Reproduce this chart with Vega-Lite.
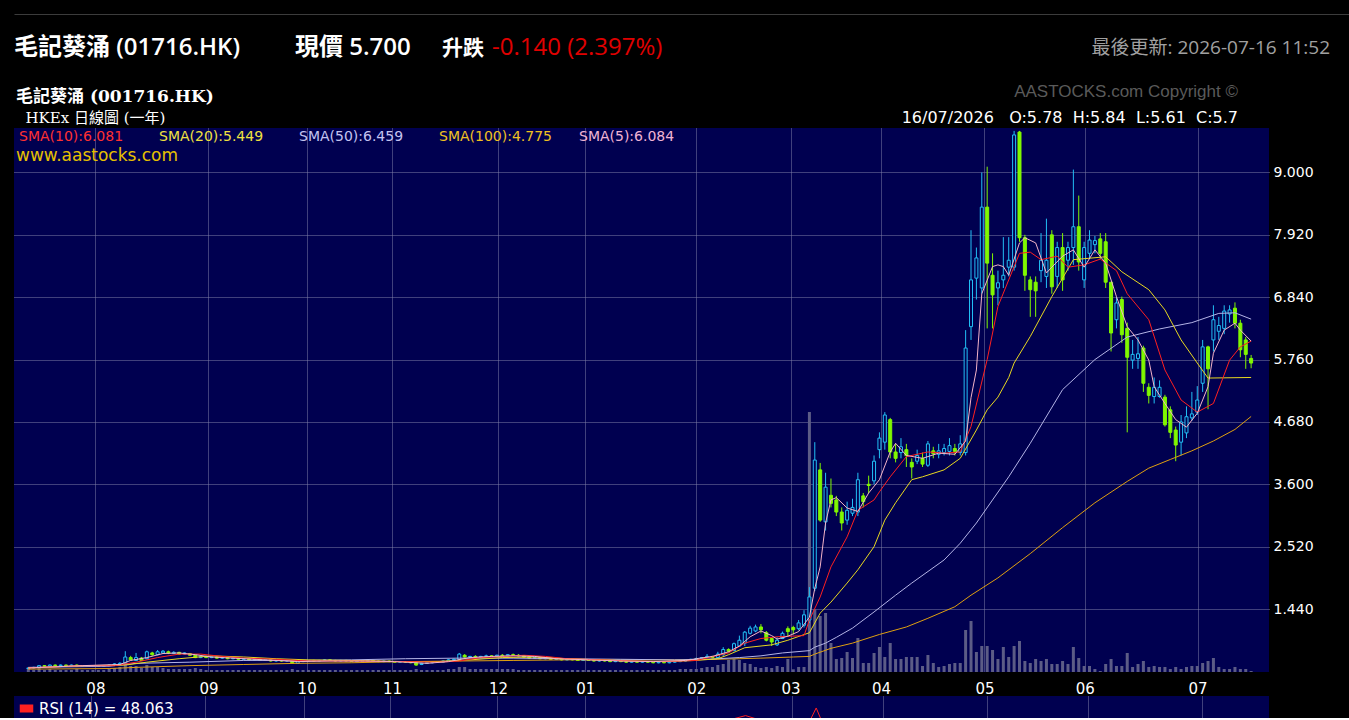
{
"$schema": "https://vega.github.io/schema/vega-lite/v6.json",
"background": "#000000",
"padding": {"left": 14, "top": 14, "right": 0, "bottom": 0},
"config": {
  "view": {"stroke": null},
  "concat": {"spacing": 0},
  "axis": {"domain": false, "ticks": false, "labelColor": "#ffffff", "labelFont": "DejaVu Sans", "gridColor": "#8080a8", "gridDash": [1, 1], "gridOpacity": 1}
},
"datasets": {
"k": [
{"i":0,"o":0.41,"h":0.43,"l":0.40,"c":0.42,"v":0.3},{"i":1,"o":0.42,"h":0.44,"l":0.41,"c":0.43,"v":0.2},{"i":2,"o":0.43,"h":0.47,"l":0.42,"c":0.46,"v":0.4},{"i":3,"o":0.46,"h":0.47,"l":0.44,"c":0.45,"v":0.2},{"i":4,"o":0.45,"h":0.48,"l":0.44,"c":0.47,"v":0.3},{"i":5,"o":0.47,"h":0.48,"l":0.45,"c":0.46,"v":0.2},{"i":6,"o":0.46,"h":0.48,"l":0.45,"c":0.47,"v":0.2},{"i":7,"o":0.47,"h":0.48,"l":0.45,"c":0.46,"v":0.2},{"i":8,"o":0.46,"h":0.48,"l":0.45,"c":0.47,"v":0.2},{"i":9,"o":0.47,"h":0.48,"l":0.44,"c":0.45,"v":0.3},
{"i":10,"o":0.45,"h":0.47,"l":0.44,"c":0.46,"v":0.2},{"i":11,"o":0.46,"h":0.47,"l":0.44,"c":0.45,"v":0.2},{"i":12,"o":0.45,"h":0.47,"l":0.44,"c":0.46,"v":0.2},{"i":13,"o":0.46,"h":0.47,"l":0.44,"c":0.45,"v":0.2},{"i":14,"o":0.45,"h":0.47,"l":0.44,"c":0.46,"v":0.2},{"i":15,"o":0.46,"h":0.48,"l":0.45,"c":0.47,"v":0.3},{"i":16,"o":0.47,"h":0.50,"l":0.46,"c":0.49,"v":0.4},{"i":17,"o":0.49,"h":0.52,"l":0.48,"c":0.50,"v":0.5},{"i":18,"o":0.50,"h":0.71,"l":0.49,"c":0.61,"v":0.9},{"i":19,"o":0.60,"h":0.63,"l":0.55,"c":0.56,"v":0.6},
{"i":20,"o":0.55,"h":0.68,"l":0.54,"c":0.60,"v":0.6},{"i":21,"o":0.59,"h":0.61,"l":0.54,"c":0.55,"v":0.4},{"i":22,"o":0.58,"h":0.72,"l":0.57,"c":0.70,"v":0.7},{"i":23,"o":0.68,"h":0.70,"l":0.63,"c":0.65,"v":0.5},{"i":24,"o":0.65,"h":0.73,"l":0.64,"c":0.70,"v":0.5},{"i":25,"o":0.68,"h":0.73,"l":0.67,"c":0.71,"v":0.4},{"i":26,"o":0.70,"h":0.72,"l":0.66,"c":0.68,"v":0.3},{"i":27,"o":0.67,"h":0.71,"l":0.66,"c":0.69,"v":0.3},{"i":28,"o":0.69,"h":0.70,"l":0.65,"c":0.66,"v":0.3},{"i":29,"o":0.66,"h":0.69,"l":0.65,"c":0.68,"v":0.3},
{"i":30,"o":0.67,"h":0.68,"l":0.63,"c":0.64,"v":0.3},{"i":31,"o":0.64,"h":0.65,"l":0.59,"c":0.60,"v":0.4},{"i":32,"o":0.60,"h":0.63,"l":0.59,"c":0.62,"v":0.3},{"i":33,"o":0.62,"h":0.63,"l":0.59,"c":0.60,"v":0.2},{"i":34,"o":0.60,"h":0.62,"l":0.59,"c":0.61,"v":0.2},{"i":35,"o":0.61,"h":0.62,"l":0.58,"c":0.59,"v":0.2},{"i":36,"o":0.59,"h":0.61,"l":0.58,"c":0.60,"v":0.2},{"i":37,"o":0.60,"h":0.61,"l":0.57,"c":0.58,"v":0.2},{"i":38,"o":0.58,"h":0.60,"l":0.57,"c":0.59,"v":0.2},{"i":39,"o":0.59,"h":0.60,"l":0.56,"c":0.57,"v":0.2},
{"i":40,"o":0.57,"h":0.59,"l":0.56,"c":0.58,"v":0.2},{"i":41,"o":0.58,"h":0.59,"l":0.55,"c":0.56,"v":0.2},{"i":42,"o":0.56,"h":0.58,"l":0.55,"c":0.57,"v":0.2},{"i":43,"o":0.57,"h":0.58,"l":0.54,"c":0.55,"v":0.2},{"i":44,"o":0.55,"h":0.57,"l":0.54,"c":0.56,"v":0.2},{"i":45,"o":0.56,"h":0.57,"l":0.53,"c":0.54,"v":0.2},{"i":46,"o":0.54,"h":0.56,"l":0.53,"c":0.55,"v":0.2},{"i":47,"o":0.55,"h":0.56,"l":0.53,"c":0.54,"v":0.2},{"i":48,"o":0.54,"h":0.56,"l":0.53,"c":0.55,"v":0.2},{"i":49,"o":0.55,"h":0.55,"l":0.49,"c":0.50,"v":0.3},
{"i":50,"o":0.50,"h":0.54,"l":0.49,"c":0.53,"v":0.2},{"i":51,"o":0.53,"h":0.55,"l":0.52,"c":0.54,"v":0.2},{"i":52,"o":0.54,"h":0.56,"l":0.53,"c":0.55,"v":0.2},{"i":53,"o":0.55,"h":0.56,"l":0.53,"c":0.54,"v":0.2},{"i":54,"o":0.54,"h":0.56,"l":0.53,"c":0.55,"v":0.2},{"i":55,"o":0.55,"h":0.57,"l":0.54,"c":0.56,"v":0.2},{"i":56,"o":0.56,"h":0.57,"l":0.54,"c":0.55,"v":0.2},{"i":57,"o":0.55,"h":0.56,"l":0.53,"c":0.54,"v":0.2},{"i":58,"o":0.54,"h":0.56,"l":0.53,"c":0.55,"v":0.2},{"i":59,"o":0.55,"h":0.56,"l":0.53,"c":0.54,"v":0.2},
{"i":60,"o":0.54,"h":0.55,"l":0.52,"c":0.53,"v":0.2},{"i":61,"o":0.53,"h":0.55,"l":0.52,"c":0.54,"v":0.2},{"i":62,"o":0.54,"h":0.55,"l":0.53,"c":0.54,"v":0.2},{"i":63,"o":0.54,"h":0.56,"l":0.53,"c":0.55,"v":0.2},{"i":64,"o":0.55,"h":0.56,"l":0.53,"c":0.54,"v":0.2},{"i":65,"o":0.54,"h":0.55,"l":0.52,"c":0.53,"v":0.2},{"i":66,"o":0.53,"h":0.55,"l":0.52,"c":0.54,"v":0.2},{"i":67,"o":0.54,"h":0.55,"l":0.52,"c":0.53,"v":0.2},{"i":68,"o":0.53,"h":0.54,"l":0.51,"c":0.52,"v":0.2},{"i":69,"o":0.52,"h":0.54,"l":0.51,"c":0.53,"v":0.2},
{"i":70,"o":0.53,"h":0.54,"l":0.51,"c":0.52,"v":0.2},{"i":71,"o":0.52,"h":0.53,"l":0.50,"c":0.51,"v":0.2},{"i":72,"o":0.51,"h":0.52,"l":0.46,"c":0.47,"v":0.3},{"i":73,"o":0.48,"h":0.51,"l":0.47,"c":0.50,"v":0.2},{"i":74,"o":0.50,"h":0.52,"l":0.49,"c":0.51,"v":0.2},{"i":75,"o":0.51,"h":0.53,"l":0.50,"c":0.52,"v":0.2},{"i":76,"o":0.52,"h":0.53,"l":0.51,"c":0.52,"v":0.2},{"i":77,"o":0.52,"h":0.55,"l":0.51,"c":0.54,"v":0.2},{"i":78,"o":0.54,"h":0.57,"l":0.53,"c":0.56,"v":0.3},{"i":79,"o":0.56,"h":0.58,"l":0.54,"c":0.57,"v":0.3},
{"i":80,"o":0.57,"h":0.68,"l":0.56,"c":0.66,"v":0.5},{"i":81,"o":0.64,"h":0.66,"l":0.60,"c":0.61,"v":0.5},{"i":82,"o":0.61,"h":0.63,"l":0.59,"c":0.62,"v":0.3},{"i":83,"o":0.62,"h":0.64,"l":0.60,"c":0.61,"v":0.3},{"i":84,"o":0.61,"h":0.63,"l":0.60,"c":0.62,"v":0.3},{"i":85,"o":0.62,"h":0.65,"l":0.61,"c":0.63,"v":0.3},{"i":86,"o":0.63,"h":0.64,"l":0.61,"c":0.62,"v":0.3},{"i":87,"o":0.62,"h":0.65,"l":0.61,"c":0.64,"v":0.3},{"i":88,"o":0.64,"h":0.66,"l":0.62,"c":0.63,"v":0.3},{"i":89,"o":0.63,"h":0.66,"l":0.62,"c":0.65,"v":0.3},
{"i":90,"o":0.65,"h":0.67,"l":0.63,"c":0.64,"v":0.3},{"i":91,"o":0.64,"h":0.66,"l":0.62,"c":0.63,"v":0.2},{"i":92,"o":0.63,"h":0.64,"l":0.60,"c":0.61,"v":0.2},{"i":93,"o":0.61,"h":0.62,"l":0.58,"c":0.59,"v":0.2},{"i":94,"o":0.59,"h":0.61,"l":0.58,"c":0.60,"v":0.2},{"i":95,"o":0.60,"h":0.61,"l":0.57,"c":0.58,"v":0.2},{"i":96,"o":0.58,"h":0.60,"l":0.57,"c":0.59,"v":0.2},{"i":97,"o":0.59,"h":0.60,"l":0.56,"c":0.57,"v":0.2},{"i":98,"o":0.57,"h":0.59,"l":0.56,"c":0.58,"v":0.2},{"i":99,"o":0.58,"h":0.59,"l":0.55,"c":0.56,"v":0.2},
{"i":100,"o":0.56,"h":0.58,"l":0.55,"c":0.57,"v":0.2},{"i":101,"o":0.57,"h":0.58,"l":0.55,"c":0.56,"v":0.2},{"i":102,"o":0.56,"h":0.57,"l":0.54,"c":0.55,"v":0.2},{"i":103,"o":0.55,"h":0.57,"l":0.54,"c":0.56,"v":0.2},{"i":104,"o":0.56,"h":0.57,"l":0.54,"c":0.55,"v":0.2},{"i":105,"o":0.55,"h":0.56,"l":0.53,"c":0.54,"v":0.2},{"i":106,"o":0.54,"h":0.56,"l":0.53,"c":0.55,"v":0.2},{"i":107,"o":0.55,"h":0.56,"l":0.53,"c":0.54,"v":0.2},{"i":108,"o":0.54,"h":0.55,"l":0.52,"c":0.53,"v":0.2},{"i":109,"o":0.53,"h":0.55,"l":0.52,"c":0.54,"v":0.2},
{"i":110,"o":0.54,"h":0.55,"l":0.52,"c":0.53,"v":0.2},{"i":111,"o":0.53,"h":0.54,"l":0.51,"c":0.52,"v":0.2},{"i":112,"o":0.52,"h":0.54,"l":0.51,"c":0.53,"v":0.2},{"i":113,"o":0.53,"h":0.54,"l":0.51,"c":0.52,"v":0.2},{"i":114,"o":0.52,"h":0.54,"l":0.51,"c":0.53,"v":0.2},{"i":115,"o":0.53,"h":0.54,"l":0.51,"c":0.52,"v":0.2},{"i":116,"o":0.52,"h":0.53,"l":0.50,"c":0.51,"v":0.2},{"i":117,"o":0.51,"h":0.53,"l":0.50,"c":0.52,"v":0.2},{"i":118,"o":0.52,"h":0.53,"l":0.50,"c":0.51,"v":0.2},{"i":119,"o":0.51,"h":0.53,"l":0.50,"c":0.52,"v":0.2},
{"i":120,"o":0.52,"h":0.54,"l":0.51,"c":0.53,"v":0.2},{"i":121,"o":0.53,"h":0.55,"l":0.52,"c":0.54,"v":0.3},{"i":122,"o":0.54,"h":0.57,"l":0.53,"c":0.56,"v":0.3},{"i":123,"o":0.56,"h":0.58,"l":0.55,"c":0.57,"v":0.3},{"i":124,"o":0.57,"h":0.60,"l":0.55,"c":0.58,"v":0.3},{"i":125,"o":0.58,"h":0.61,"l":0.57,"c":0.60,"v":0.4},{"i":126,"o":0.60,"h":0.66,"l":0.59,"c":0.62,"v":0.5},{"i":127,"o":0.62,"h":0.63,"l":0.59,"c":0.60,"v":0.5},{"i":128,"o":0.60,"h":0.70,"l":0.59,"c":0.66,"v":0.7},{"i":129,"o":0.65,"h":0.78,"l":0.63,"c":0.74,"v":0.8},
{"i":130,"o":0.74,"h":0.76,"l":0.69,"c":0.71,"v":1.2},{"i":131,"o":0.72,"h":0.86,"l":0.71,"c":0.84,"v":1.3},{"i":132,"o":0.80,"h":0.98,"l":0.79,"c":0.90,"v":1.2},{"i":133,"o":0.85,"h":1.06,"l":0.80,"c":1.04,"v":0.9},{"i":134,"o":1.02,"h":1.15,"l":1.00,"c":1.11,"v":0.8},{"i":135,"o":1.06,"h":1.17,"l":1.04,"c":1.13,"v":0.5},{"i":136,"o":1.13,"h":1.18,"l":1.02,"c":1.08,"v":0.4},{"i":137,"o":1.03,"h":1.06,"l":0.88,"c":0.90,"v":0.5},{"i":138,"o":0.93,"h":0.95,"l":0.80,"c":0.87,"v":0.4},{"i":139,"o":0.82,"h":0.95,"l":0.80,"c":0.90,"v":0.6},
{"i":140,"o":0.93,"h":1.05,"l":0.92,"c":1.02,"v":0.5},{"i":141,"o":1.10,"h":1.14,"l":0.96,"c":1.05,"v":1.3},{"i":142,"o":1.12,"h":1.15,"l":1.00,"c":1.08,"v":0.27},{"i":143,"o":1.10,"h":1.25,"l":1.07,"c":1.20,"v":0.5},{"i":144,"o":1.16,"h":1.42,"l":1.12,"c":1.34,"v":0.5},{"i":145,"o":1.25,"h":1.82,"l":1.20,"c":1.65,"v":26},{"i":146,"o":1.80,"h":4.33,"l":1.75,"c":4.02,"v":6.3},{"i":147,"o":3.85,"h":3.97,"l":2.95,"c":2.98,"v":5.6},{"i":148,"o":2.95,"h":3.80,"l":2.80,"c":3.55,"v":5.9},{"i":149,"o":3.41,"h":3.70,"l":3.20,"c":3.27,"v":2.9},
{"i":150,"o":3.33,"h":3.40,"l":3.05,"c":3.12,"v":1.3},{"i":151,"o":3.12,"h":3.20,"l":2.80,"c":2.93,"v":1.4},{"i":152,"o":2.98,"h":3.30,"l":2.90,"c":3.15,"v":2.0},{"i":153,"o":3.10,"h":3.35,"l":3.05,"c":3.20,"v":1.4},{"i":154,"o":3.12,"h":3.80,"l":3.05,"c":3.68,"v":3.4},{"i":155,"o":3.40,"h":3.45,"l":3.20,"c":3.30,"v":0.9},{"i":156,"o":3.60,"h":3.75,"l":3.45,"c":3.58,"v":0.9},{"i":157,"o":3.66,"h":4.10,"l":3.60,"c":4.00,"v":1.9},{"i":158,"o":4.20,"h":4.50,"l":4.05,"c":4.40,"v":2.5},{"i":159,"o":4.33,"h":4.85,"l":4.20,"c":4.80,"v":1.5},
{"i":160,"o":4.72,"h":4.75,"l":4.05,"c":4.16,"v":2.9},{"i":161,"o":4.16,"h":4.30,"l":3.98,"c":4.05,"v":1.3},{"i":162,"o":4.15,"h":4.40,"l":4.05,"c":4.25,"v":1.3},{"i":163,"o":4.20,"h":4.30,"l":3.90,"c":4.10,"v":1.5},{"i":164,"o":3.98,"h":4.05,"l":3.70,"c":3.90,"v":1.5},{"i":165,"o":4.00,"h":4.20,"l":3.95,"c":4.10,"v":1.5},{"i":166,"o":4.05,"h":4.15,"l":3.90,"c":3.95,"v":0.6},{"i":167,"o":3.93,"h":4.35,"l":3.90,"c":4.30,"v":1.7},{"i":168,"o":4.18,"h":4.25,"l":4.05,"c":4.13,"v":0.9},{"i":169,"o":4.12,"h":4.30,"l":4.05,"c":4.18,"v":0.5},
{"i":170,"o":4.15,"h":4.30,"l":4.10,"c":4.22,"v":0.6},{"i":171,"o":4.17,"h":4.40,"l":4.10,"c":4.27,"v":0.8},{"i":172,"o":4.22,"h":4.30,"l":4.10,"c":4.17,"v":0.9},{"i":173,"o":4.15,"h":4.45,"l":4.10,"c":4.30,"v":0.9},{"i":174,"o":4.15,"h":6.27,"l":4.10,"c":5.96,"v":4.2},{"i":175,"o":6.33,"h":8.00,"l":6.10,"c":7.14,"v":5.1},{"i":176,"o":7.17,"h":7.70,"l":6.80,"c":7.52,"v":2.0},{"i":177,"o":7.00,"h":9.00,"l":6.90,"c":8.40,"v":2.6},{"i":178,"o":8.40,"h":9.10,"l":6.30,"c":7.43,"v":2.6},{"i":179,"o":7.22,"h":7.60,"l":6.30,"c":6.88,"v":2.2},
{"i":180,"o":7.00,"h":7.30,"l":6.70,"c":7.09,"v":1.3},{"i":181,"o":7.14,"h":7.88,"l":7.00,"c":7.22,"v":2.5},{"i":182,"o":7.36,"h":7.88,"l":7.20,"c":7.48,"v":1.5},{"i":183,"o":7.36,"h":9.72,"l":7.30,"c":9.65,"v":2.6},{"i":184,"o":9.70,"h":9.72,"l":7.80,"c":7.87,"v":3.1},{"i":185,"o":7.87,"h":7.92,"l":6.95,"c":7.22,"v":1.1},{"i":186,"o":7.14,"h":7.20,"l":6.50,"c":6.97,"v":0.9},{"i":187,"o":7.10,"h":7.20,"l":6.50,"c":6.95,"v":1.3},{"i":188,"o":7.30,"h":7.95,"l":7.10,"c":7.48,"v":1.1},{"i":189,"o":7.20,"h":8.20,"l":7.00,"c":7.48,"v":1.3},
{"i":190,"o":7.92,"h":8.00,"l":6.90,"c":7.02,"v":0.8},{"i":191,"o":7.20,"h":7.80,"l":7.00,"c":7.70,"v":0.8},{"i":192,"o":7.70,"h":7.95,"l":6.95,"c":7.14,"v":1.1},{"i":193,"o":7.48,"h":7.80,"l":7.30,"c":7.70,"v":0.8},{"i":194,"o":7.70,"h":9.05,"l":7.40,"c":8.06,"v":2.5},{"i":195,"o":8.06,"h":8.60,"l":7.30,"c":7.45,"v":1.4},{"i":196,"o":7.14,"h":7.80,"l":7.00,"c":7.70,"v":0.6},{"i":197,"o":7.60,"h":8.00,"l":7.50,"c":7.83,"v":0.6},{"i":198,"o":7.75,"h":7.90,"l":7.60,"c":7.82,"v":0.3},{"i":199,"o":7.85,"h":7.95,"l":7.50,"c":7.60,"v":0.1},
{"i":200,"o":7.80,"h":7.95,"l":7.00,"c":7.10,"v":0.8},{"i":201,"o":7.10,"h":7.10,"l":5.90,"c":6.22,"v":1.3},{"i":202,"o":6.45,"h":6.85,"l":6.30,"c":6.74,"v":0.6},{"i":203,"o":6.80,"h":6.85,"l":6.05,"c":6.19,"v":0.6},{"i":204,"o":6.30,"h":6.40,"l":4.50,"c":5.80,"v":1.9},{"i":205,"o":5.75,"h":6.10,"l":5.60,"c":5.85,"v":0.5},{"i":206,"o":5.78,"h":6.15,"l":5.60,"c":5.86,"v":0.8},{"i":207,"o":5.96,"h":6.00,"l":5.20,"c":5.35,"v":1.1},{"i":208,"o":5.28,"h":5.35,"l":5.00,"c":5.14,"v":0.5},{"i":209,"o":5.12,"h":5.45,"l":5.00,"c":5.28,"v":0.6},
{"i":210,"o":5.12,"h":5.40,"l":5.10,"c":5.28,"v":0.5},{"i":211,"o":5.11,"h":5.15,"l":4.60,"c":4.63,"v":0.5},{"i":212,"o":4.89,"h":4.95,"l":4.40,"c":4.50,"v":0.3},{"i":213,"o":4.54,"h":4.60,"l":4.00,"c":4.28,"v":0.5},{"i":214,"o":4.33,"h":4.80,"l":4.10,"c":4.68,"v":0.3},{"i":215,"o":4.49,"h":4.95,"l":4.40,"c":4.77,"v":0.5},{"i":216,"o":4.75,"h":5.20,"l":4.70,"c":4.82,"v":0.6},{"i":217,"o":4.85,"h":5.30,"l":4.80,"c":5.06,"v":0.6},{"i":218,"o":5.35,"h":6.10,"l":5.20,"c":5.98,"v":0.9},{"i":219,"o":5.98,"h":6.00,"l":4.90,"c":5.60,"v":1.1},
{"i":220,"o":6.10,"h":6.70,"l":5.90,"c":6.45,"v":1.4},{"i":221,"o":6.25,"h":6.50,"l":6.10,"c":6.35,"v":0.5},{"i":222,"o":6.30,"h":6.70,"l":6.20,"c":6.60,"v":0.3},{"i":223,"o":6.55,"h":6.70,"l":6.40,"c":6.62,"v":0.3},{"i":224,"o":6.65,"h":6.75,"l":6.30,"c":6.39,"v":0.5},{"i":225,"o":6.39,"h":6.45,"l":5.80,"c":5.93,"v":0.3},{"i":226,"o":6.10,"h":6.15,"l":5.60,"c":5.85,"v":0.3},{"i":227,"o":5.78,"h":5.84,"l":5.61,"c":5.70,"v":0.1}
],
"sma": [
{"s":"SMA(100):4.775","i":0,"p":0.40},{"s":"SMA(100):4.775","i":15,"p":0.41},{"s":"SMA(100):4.775","i":20,"p":0.43},{"s":"SMA(100):4.775","i":30,"p":0.46},{"s":"SMA(100):4.775","i":40,"p":0.48},{"s":"SMA(100):4.775","i":50,"p":0.50},{"s":"SMA(100):4.775","i":60,"p":0.51},{"s":"SMA(100):4.775","i":70,"p":0.53},{"s":"SMA(100):4.775","i":80,"p":0.54},{"s":"SMA(100):4.775","i":90,"p":0.55},{"s":"SMA(100):4.775","i":100,"p":0.56},{"s":"SMA(100):4.775","i":110,"p":0.56},{"s":"SMA(100):4.775","i":120,"p":0.56},{"s":"SMA(100):4.775","i":128,"p":0.57},{"s":"SMA(100):4.775","i":136,"p":0.59},{"s":"SMA(100):4.775","i":142,"p":0.61},{"s":"SMA(100):4.775","i":145,"p":0.62},{"s":"SMA(100):4.775","i":146,"p":0.66},{"s":"SMA(100):4.775","i":149,"p":0.76},{"s":"SMA(100):4.775","i":153,"p":0.85},{"s":"SMA(100):4.775","i":158,"p":1.0},{"s":"SMA(100):4.775","i":163,"p":1.13},{"s":"SMA(100):4.775","i":167,"p":1.28},{"s":"SMA(100):4.775","i":172,"p":1.48},{"s":"SMA(100):4.775","i":175,"p":1.68},{"s":"SMA(100):4.775","i":180,"p":1.98},{"s":"SMA(100):4.775","i":186,"p":2.4},{"s":"SMA(100):4.775","i":192,"p":2.85},{"s":"SMA(100):4.775","i":198,"p":3.28},{"s":"SMA(100):4.775","i":204,"p":3.65},{"s":"SMA(100):4.775","i":208,"p":3.88},{"s":"SMA(100):4.775","i":212,"p":4.03},{"s":"SMA(100):4.775","i":216,"p":4.18},{"s":"SMA(100):4.775","i":220,"p":4.35},{"s":"SMA(100):4.775","i":224,"p":4.55},{"s":"SMA(100):4.775","i":227,"p":4.775},
{"s":"SMA(50):6.459","i":0,"p":0.43},{"s":"SMA(50):6.459","i":15,"p":0.45},{"s":"SMA(50):6.459","i":20,"p":0.50},{"s":"SMA(50):6.459","i":30,"p":0.52},{"s":"SMA(50):6.459","i":40,"p":0.55},{"s":"SMA(50):6.459","i":50,"p":0.55},{"s":"SMA(50):6.459","i":60,"p":0.56},{"s":"SMA(50):6.459","i":70,"p":0.58},{"s":"SMA(50):6.459","i":80,"p":0.59},{"s":"SMA(50):6.459","i":90,"p":0.59},{"s":"SMA(50):6.459","i":100,"p":0.58},{"s":"SMA(50):6.459","i":110,"p":0.57},{"s":"SMA(50):6.459","i":120,"p":0.56},{"s":"SMA(50):6.459","i":126,"p":0.57},{"s":"SMA(50):6.459","i":132,"p":0.60},{"s":"SMA(50):6.459","i":136,"p":0.63},{"s":"SMA(50):6.459","i":140,"p":0.68},{"s":"SMA(50):6.459","i":145,"p":0.72},{"s":"SMA(50):6.459","i":146,"p":0.78},{"s":"SMA(50):6.459","i":148,"p":0.85},{"s":"SMA(50):6.459","i":150,"p":0.95},{"s":"SMA(50):6.459","i":153,"p":1.11},{"s":"SMA(50):6.459","i":157,"p":1.39},{"s":"SMA(50):6.459","i":161,"p":1.68},{"s":"SMA(50):6.459","i":164,"p":1.89},{"s":"SMA(50):6.459","i":170,"p":2.29},{"s":"SMA(50):6.459","i":173,"p":2.58},{"s":"SMA(50):6.459","i":176,"p":2.93},{"s":"SMA(50):6.459","i":182,"p":3.73},{"s":"SMA(50):6.459","i":186,"p":4.31},{"s":"SMA(50):6.459","i":192,"p":5.24},{"s":"SMA(50):6.459","i":198,"p":5.76},{"s":"SMA(50):6.459","i":204,"p":6.15},{"s":"SMA(50):6.459","i":210,"p":6.29},{"s":"SMA(50):6.459","i":216,"p":6.40},{"s":"SMA(50):6.459","i":221,"p":6.56},{"s":"SMA(50):6.459","i":224,"p":6.57},{"s":"SMA(50):6.459","i":227,"p":6.46},
{"s":"SMA(20):5.449","i":0,"p":0.42},{"s":"SMA(20):5.449","i":10,"p":0.46},{"s":"SMA(20):5.449","i":18,"p":0.47},{"s":"SMA(20):5.449","i":22,"p":0.52},{"s":"SMA(20):5.449","i":28,"p":0.58},{"s":"SMA(20):5.449","i":34,"p":0.63},{"s":"SMA(20):5.449","i":40,"p":0.61},{"s":"SMA(20):5.449","i":46,"p":0.58},{"s":"SMA(20):5.449","i":52,"p":0.56},{"s":"SMA(20):5.449","i":60,"p":0.55},{"s":"SMA(20):5.449","i":70,"p":0.53},{"s":"SMA(20):5.449","i":76,"p":0.53},{"s":"SMA(20):5.449","i":82,"p":0.56},{"s":"SMA(20):5.449","i":88,"p":0.60},{"s":"SMA(20):5.449","i":94,"p":0.61},{"s":"SMA(20):5.449","i":100,"p":0.58},{"s":"SMA(20):5.449","i":106,"p":0.56},{"s":"SMA(20):5.449","i":112,"p":0.54},{"s":"SMA(20):5.449","i":118,"p":0.53},{"s":"SMA(20):5.449","i":124,"p":0.55},{"s":"SMA(20):5.449","i":128,"p":0.58},{"s":"SMA(20):5.449","i":130,"p":0.65},{"s":"SMA(20):5.449","i":133,"p":0.77},{"s":"SMA(20):5.449","i":138,"p":0.82},{"s":"SMA(20):5.449","i":141,"p":0.90},{"s":"SMA(20):5.449","i":145,"p":1.03},{"s":"SMA(20):5.449","i":147,"p":1.37},{"s":"SMA(20):5.449","i":149,"p":1.56},{"s":"SMA(20):5.449","i":152,"p":1.89},{"s":"SMA(20):5.449","i":154,"p":2.12},{"s":"SMA(20):5.449","i":157,"p":2.52},{"s":"SMA(20):5.449","i":159,"p":2.98},{"s":"SMA(20):5.449","i":161,"p":3.28},{"s":"SMA(20):5.449","i":164,"p":3.68},{"s":"SMA(20):5.449","i":166,"p":3.73},{"s":"SMA(20):5.449","i":170,"p":3.85},{"s":"SMA(20):5.449","i":173,"p":4.05},{"s":"SMA(20):5.449","i":176,"p":4.54},{"s":"SMA(20):5.449","i":178,"p":4.89},{"s":"SMA(20):5.449","i":180,"p":5.11},{"s":"SMA(20):5.449","i":182,"p":5.45},{"s":"SMA(20):5.449","i":183,"p":5.70},{"s":"SMA(20):5.449","i":186,"p":6.16},{"s":"SMA(20):5.449","i":190,"p":6.85},{"s":"SMA(20):5.449","i":194,"p":7.49},{"s":"SMA(20):5.449","i":200,"p":7.54},{"s":"SMA(20):5.449","i":203,"p":7.28},{"s":"SMA(20):5.449","i":208,"p":6.97},{"s":"SMA(20):5.449","i":211,"p":6.62},{"s":"SMA(20):5.449","i":214,"p":6.10},{"s":"SMA(20):5.449","i":217,"p":5.70},{"s":"SMA(20):5.449","i":219,"p":5.44},{"s":"SMA(20):5.449","i":227,"p":5.45},
{"s":"SMA(10):6.081","i":0,"p":0.42},{"s":"SMA(10):6.081","i":10,"p":0.46},{"s":"SMA(10):6.081","i":16,"p":0.46},{"s":"SMA(10):6.081","i":20,"p":0.52},{"s":"SMA(10):6.081","i":24,"p":0.60},{"s":"SMA(10):6.081","i":28,"p":0.66},{"s":"SMA(10):6.081","i":32,"p":0.66},{"s":"SMA(10):6.081","i":36,"p":0.62},{"s":"SMA(10):6.081","i":40,"p":0.59},{"s":"SMA(10):6.081","i":46,"p":0.57},{"s":"SMA(10):6.081","i":52,"p":0.54},{"s":"SMA(10):6.081","i":60,"p":0.54},{"s":"SMA(10):6.081","i":70,"p":0.53},{"s":"SMA(10):6.081","i":76,"p":0.52},{"s":"SMA(10):6.081","i":80,"p":0.54},{"s":"SMA(10):6.081","i":84,"p":0.60},{"s":"SMA(10):6.081","i":88,"p":0.62},{"s":"SMA(10):6.081","i":92,"p":0.64},{"s":"SMA(10):6.081","i":96,"p":0.62},{"s":"SMA(10):6.081","i":100,"p":0.58},{"s":"SMA(10):6.081","i":106,"p":0.56},{"s":"SMA(10):6.081","i":112,"p":0.54},{"s":"SMA(10):6.081","i":118,"p":0.53},{"s":"SMA(10):6.081","i":124,"p":0.55},{"s":"SMA(10):6.081","i":130,"p":0.68},{"s":"SMA(10):6.081","i":133,"p":0.85},{"s":"SMA(10):6.081","i":136,"p":0.93},{"s":"SMA(10):6.081","i":139,"p":0.96},{"s":"SMA(10):6.081","i":144,"p":0.98},{"s":"SMA(10):6.081","i":145,"p":1.25},{"s":"SMA(10):6.081","i":147,"p":1.65},{"s":"SMA(10):6.081","i":149,"p":2.17},{"s":"SMA(10):6.081","i":152,"p":2.69},{"s":"SMA(10):6.081","i":154,"p":3.15},{"s":"SMA(10):6.081","i":157,"p":3.33},{"s":"SMA(10):6.081","i":158,"p":3.47},{"s":"SMA(10):6.081","i":160,"p":3.73},{"s":"SMA(10):6.081","i":163,"p":4.08},{"s":"SMA(10):6.081","i":167,"p":4.16},{"s":"SMA(10):6.081","i":170,"p":4.14},{"s":"SMA(10):6.081","i":173,"p":4.16},{"s":"SMA(10):6.081","i":175,"p":4.60},{"s":"SMA(10):6.081","i":178,"p":5.76},{"s":"SMA(10):6.081","i":180,"p":6.68},{"s":"SMA(10):6.081","i":182,"p":7.14},{"s":"SMA(10):6.081","i":184,"p":7.60},{"s":"SMA(10):6.081","i":186,"p":7.62},{"s":"SMA(10):6.081","i":188,"p":7.49},{"s":"SMA(10):6.081","i":191,"p":7.55},{"s":"SMA(10):6.081","i":193,"p":7.36},{"s":"SMA(10):6.081","i":196,"p":7.40},{"s":"SMA(10):6.081","i":199,"p":7.50},{"s":"SMA(10):6.081","i":202,"p":7.30},{"s":"SMA(10):6.081","i":204,"p":6.90},{"s":"SMA(10):6.081","i":208,"p":6.45},{"s":"SMA(10):6.081","i":211,"p":5.58},{"s":"SMA(10):6.081","i":214,"p":5.06},{"s":"SMA(10):6.081","i":217,"p":4.85},{"s":"SMA(10):6.081","i":220,"p":5.00},{"s":"SMA(10):6.081","i":223,"p":5.75},{"s":"SMA(10):6.081","i":225,"p":5.98},{"s":"SMA(10):6.081","i":227,"p":6.08},
{"s":"SMA(5):6.084","i":0,"p":0.42},{"s":"SMA(5):6.084","i":10,"p":0.46},{"s":"SMA(5):6.084","i":17,"p":0.48},{"s":"SMA(5):6.084","i":19,"p":0.55},{"s":"SMA(5):6.084","i":22,"p":0.60},{"s":"SMA(5):6.084","i":25,"p":0.67},{"s":"SMA(5):6.084","i":28,"p":0.68},{"s":"SMA(5):6.084","i":31,"p":0.65},{"s":"SMA(5):6.084","i":34,"p":0.61},{"s":"SMA(5):6.084","i":38,"p":0.59},{"s":"SMA(5):6.084","i":44,"p":0.56},{"s":"SMA(5):6.084","i":50,"p":0.53},{"s":"SMA(5):6.084","i":56,"p":0.54},{"s":"SMA(5):6.084","i":62,"p":0.54},{"s":"SMA(5):6.084","i":68,"p":0.53},{"s":"SMA(5):6.084","i":74,"p":0.50},{"s":"SMA(5):6.084","i":78,"p":0.53},{"s":"SMA(5):6.084","i":82,"p":0.60},{"s":"SMA(5):6.084","i":86,"p":0.62},{"s":"SMA(5):6.084","i":90,"p":0.63},{"s":"SMA(5):6.084","i":94,"p":0.62},{"s":"SMA(5):6.084","i":98,"p":0.58},{"s":"SMA(5):6.084","i":104,"p":0.56},{"s":"SMA(5):6.084","i":110,"p":0.54},{"s":"SMA(5):6.084","i":116,"p":0.53},{"s":"SMA(5):6.084","i":122,"p":0.55},{"s":"SMA(5):6.084","i":124,"p":0.58},{"s":"SMA(5):6.084","i":127,"p":0.62},{"s":"SMA(5):6.084","i":130,"p":0.70},{"s":"SMA(5):6.084","i":132,"p":0.80},{"s":"SMA(5):6.084","i":134,"p":0.96},{"s":"SMA(5):6.084","i":136,"p":1.06},{"s":"SMA(5):6.084","i":138,"p":0.98},{"s":"SMA(5):6.084","i":139,"p":0.92},{"s":"SMA(5):6.084","i":141,"p":0.97},{"s":"SMA(5):6.084","i":143,"p":1.05},{"s":"SMA(5):6.084","i":145,"p":1.30},{"s":"SMA(5):6.084","i":146,"p":1.80},{"s":"SMA(5):6.084","i":147,"p":2.17},{"s":"SMA(5):6.084","i":148,"p":2.93},{"s":"SMA(5):6.084","i":149,"p":3.33},{"s":"SMA(5):6.084","i":150,"p":3.37},{"s":"SMA(5):6.084","i":152,"p":3.19},{"s":"SMA(5):6.084","i":154,"p":3.13},{"s":"SMA(5):6.084","i":156,"p":3.45},{"s":"SMA(5):6.084","i":158,"p":3.68},{"s":"SMA(5):6.084","i":160,"p":4.16},{"s":"SMA(5):6.084","i":161,"p":4.31},{"s":"SMA(5):6.084","i":163,"p":4.10},{"s":"SMA(5):6.084","i":166,"p":4.05},{"s":"SMA(5):6.084","i":169,"p":4.14},{"s":"SMA(5):6.084","i":172,"p":4.12},{"s":"SMA(5):6.084","i":174,"p":4.35},{"s":"SMA(5):6.084","i":175,"p":5.10},{"s":"SMA(5):6.084","i":176,"p":5.58},{"s":"SMA(5):6.084","i":177,"p":6.90},{"s":"SMA(5):6.084","i":179,"p":7.37},{"s":"SMA(5):6.084","i":180,"p":7.40},{"s":"SMA(5):6.084","i":181,"p":7.37},{"s":"SMA(5):6.084","i":182,"p":7.22},{"s":"SMA(5):6.084","i":184,"p":7.78},{"s":"SMA(5):6.084","i":185,"p":7.87},{"s":"SMA(5):6.084","i":187,"p":7.78},{"s":"SMA(5):6.084","i":189,"p":7.26},{"s":"SMA(5):6.084","i":190,"p":7.36},{"s":"SMA(5):6.084","i":192,"p":7.55},{"s":"SMA(5):6.084","i":194,"p":7.66},{"s":"SMA(5):6.084","i":196,"p":7.36},{"s":"SMA(5):6.084","i":198,"p":7.66},{"s":"SMA(5):6.084","i":200,"p":7.43},{"s":"SMA(5):6.084","i":202,"p":6.85},{"s":"SMA(5):6.084","i":204,"p":6.33},{"s":"SMA(5):6.084","i":206,"p":6.10},{"s":"SMA(5):6.084","i":208,"p":5.75},{"s":"SMA(5):6.084","i":209,"p":5.29},{"s":"SMA(5):6.084","i":211,"p":5.00},{"s":"SMA(5):6.084","i":213,"p":4.72},{"s":"SMA(5):6.084","i":215,"p":4.59},{"s":"SMA(5):6.084","i":217,"p":4.83},{"s":"SMA(5):6.084","i":219,"p":5.29},{"s":"SMA(5):6.084","i":220,"p":5.87},{"s":"SMA(5):6.084","i":222,"p":6.27},{"s":"SMA(5):6.084","i":224,"p":6.39},{"s":"SMA(5):6.084","i":225,"p":6.27},{"s":"SMA(5):6.084","i":227,"p":6.08}
],
"rsi": [
{"s":"RSI (14) = 48.063","i":0,"r":50},{"s":"RSI (14) = 48.063","i":20,"r":62},{"s":"RSI (14) = 48.063","i":40,"r":45},{"s":"RSI (14) = 48.063","i":60,"r":48},{"s":"RSI (14) = 48.063","i":80,"r":58},{"s":"RSI (14) = 48.063","i":100,"r":45},{"s":"RSI (14) = 48.063","i":120,"r":50},{"s":"RSI (14) = 48.063","i":126,"r":66},{"s":"RSI (14) = 48.063","i":130,"r":75},{"s":"RSI (14) = 48.063","i":133,"r":79.5},{"s":"RSI (14) = 48.063","i":135,"r":76},{"s":"RSI (14) = 48.063","i":137,"r":60},{"s":"RSI (14) = 48.063","i":140,"r":66},{"s":"RSI (14) = 48.063","i":143,"r":72},{"s":"RSI (14) = 48.063","i":145,"r":76},{"s":"RSI (14) = 48.063","i":146,"r":87.5},{"s":"RSI (14) = 48.063","i":147,"r":74},{"s":"RSI (14) = 48.063","i":150,"r":62},{"s":"RSI (14) = 48.063","i":155,"r":66},{"s":"RSI (14) = 48.063","i":159,"r":74},{"s":"RSI (14) = 48.063","i":162,"r":60},{"s":"RSI (14) = 48.063","i":166,"r":55},{"s":"RSI (14) = 48.063","i":170,"r":58},{"s":"RSI (14) = 48.063","i":174,"r":72},{"s":"RSI (14) = 48.063","i":178,"r":74},{"s":"RSI (14) = 48.063","i":184,"r":70},{"s":"RSI (14) = 48.063","i":186,"r":60},{"s":"RSI (14) = 48.063","i":190,"r":58},{"s":"RSI (14) = 48.063","i":196,"r":55},{"s":"RSI (14) = 48.063","i":201,"r":42},{"s":"RSI (14) = 48.063","i":204,"r":38},{"s":"RSI (14) = 48.063","i":210,"r":32},{"s":"RSI (14) = 48.063","i":214,"r":30},{"s":"RSI (14) = 48.063","i":218,"r":52},{"s":"RSI (14) = 48.063","i":222,"r":60},{"s":"RSI (14) = 48.063","i":225,"r":55},{"s":"RSI (14) = 48.063","i":227,"r":48}
]
},
"spacing": 0,
"resolve": {"scale": {"color": "independent", "x": "independent", "y": "independent"}, "legend": {"color": "independent"}, "axis": {"x": "independent", "y": "independent"}},
"vconcat": [
{
  "width": 1335, "height": 22, "data": {"values": []}, "mark": "point",
  "encoding": {"x": {"field": "z", "type": "quantitative", "scale": {"domain": [0, 1]},
                     "axis": {"orient": "top", "domain": true, "domainColor": "#3c3c3c", "domainWidth": 1, "domainDash": [], "labels": false, "ticks": false, "grid": false, "title": null}}}
},
{
  "spacing": 0,
  "hconcat": [
    {"width": 281, "height": 19, "data": {"values": []}, "mark": "point",
     "title": {"text": "毛記葵涌 (01716.HK)", "anchor": "start", "color": "#ffffff", "font": "'Open Sans', 'Noto Sans CJK TC', sans-serif", "fontSize": 24, "fontWeight": 600, "offset": 4}},
    {"width": 147, "height": 19, "data": {"values": []}, "mark": "point",
     "title": {"text": "現價 5.700", "anchor": "start", "color": "#ffffff", "font": "'Open Sans', 'Noto Sans CJK TC', sans-serif", "fontSize": 24, "fontWeight": 600, "offset": 4}},
    {"width": 50, "height": 19, "data": {"values": []}, "mark": "point",
     "title": {"text": "升跌", "anchor": "start", "color": "#ffffff", "font": "'Open Sans', 'Noto Sans CJK TC', sans-serif", "fontSize": 21, "fontWeight": 600, "offset": 5}},
    {"width": 200, "height": 19, "data": {"values": []}, "mark": "point",
     "title": {"text": "-0.140 (2.397%)", "anchor": "start", "color": "#e00000", "font": "'Open Sans', 'Noto Sans CJK TC', sans-serif", "fontSize": 24, "fontWeight": "normal", "offset": 4}},
    {"width": 638, "height": 19, "data": {"values": []}, "mark": "point",
     "title": {"text": "最後更新: 2026-07-16 11:52", "anchor": "end", "color": "#a0a0a0", "font": "'Open Sans', 'Noto Sans CJK TC', sans-serif", "fontSize": 19, "fontWeight": "normal", "offset": 6}}
  ]
},
{
  "spacing": 0,
  "hconcat": [
    {"width": 874, "height": 1, "data": {"values": []}, "mark": "point",
     "title": {"text": "毛記葵涌 (001716.HK)", "subtitle": "\u200b\u00a0\u00a0HKEx 日線圖 (一年)", "anchor": "start", "dx": 2, "color": "#ffffff", "font": "'DejaVu Serif', 'Noto Sans CJK TC', serif", "fontSize": 17, "fontWeight": "bold", "subtitleFont": "'DejaVu Serif', 'Noto Sans CJK TC', serif", "subtitleFontSize": 15, "subtitleColor": "#ffffff", "subtitlePadding": 5, "offset": 0}},
    {"width": 350, "height": 1, "data": {"values": []}, "mark": "point",
     "title": {"text": "AASTOCKS.com Copyright ©", "subtitle": "16/07/2026\u00a0\u00a0\u00a0O:5.78\u00a0\u00a0H:5.84\u00a0\u00a0L:5.61\u00a0\u00a0C:5.7", "anchor": "end", "color": "#5a5a5a", "font": "'Liberation Sans', sans-serif", "fontSize": 17, "fontWeight": "normal", "subtitleFont": "'DejaVu Sans', sans-serif", "subtitleFontSize": 16, "subtitleColor": "#ffffff", "subtitlePadding": 9, "offset": 0}}
  ]
},
{
  "width": 1255,
  "height": 544,
  "view": {"fill": "#000050", "stroke": null},
  "data": {"name": "k"},
  "encoding": {
    "x": {"field": "i", "type": "quantitative",
          "scale": {"domain": [-1.731, 229.39], "nice": false, "zero": false},
          "axis": {"values": [12.45, 33.44, 51.67, 67.5, 87.2, 103.4, 124.0, 141.5, 158.3, 177.5, 196.1, 217.05],
                   "labelExpr": "datum.value < 20 ? '08' : datum.value < 40 ? '09' : datum.value < 60 ? '10' : datum.value < 75 ? '11' : datum.value < 95 ? '12' : datum.value < 110 ? '01' : datum.value < 130 ? '02' : datum.value < 150 ? '03' : datum.value < 165 ? '04' : datum.value < 185 ? '05' : datum.value < 205 ? '06' : '07'",
                   "grid": true, "labelFontSize": 15, "labelPadding": 9, "labelFlush": false, "labelOverlap": false, "title": null}}
  },
  "layer": [
    {"mark": {"type": "bar", "size": 3, "color": "#5c5c86"},
     "encoding": {"y": {"field": "v", "type": "quantitative", "scale": {"domain": [0, 54.4], "nice": false}, "axis": null}}},
    {"layer": [
      {"mark": {"type": "rule", "strokeWidth": 1},
       "encoding": {
         "y": {"field": "l", "type": "quantitative", "scale": {"domain": [0.35, 9.77], "nice": false, "zero": false},
               "axis": {"orient": "right", "values": [1.44, 2.52, 3.6, 4.68, 5.76, 6.84, 7.92, 9.0], "format": ".3f", "grid": true, "labelFontSize": 14, "labelPadding": 4, "title": null}},
         "y2": {"field": "h"},
         "color": {"condition": {"test": "datum.c >= datum.o", "value": "#22bff5"}, "value": "#80f800"}
       }},
      {"mark": {"type": "bar", "size": 3, "strokeWidth": 1},
       "encoding": {
         "y": {"field": "o", "type": "quantitative", "scale": {"domain": [0.35, 9.77], "nice": false, "zero": false},
               "axis": {"orient": "right", "values": [1.44, 2.52, 3.6, 4.68, 5.76, 6.84, 7.92, 9.0], "format": ".3f", "grid": true, "labelFontSize": 14, "labelPadding": 4, "title": null}},
         "y2": {"field": "c"},
         "fill": {"condition": {"test": "datum.c >= datum.o", "value": "#000050"}, "value": "#80f800"},
         "stroke": {"condition": {"test": "datum.c >= datum.o", "value": "#22bff5"}, "value": "#80f800"}
       }},
      {"data": {"name": "sma"},
       "mark": {"type": "line", "strokeWidth": 1},
       "encoding": {
         "y": {"field": "p", "type": "quantitative", "scale": {"domain": [0.35, 9.77], "nice": false, "zero": false},
               "axis": {"orient": "right", "values": [1.44, 2.52, 3.6, 4.68, 5.76, 6.84, 7.92, 9.0], "format": ".3f", "grid": true, "labelFontSize": 14, "labelPadding": 4, "title": null}},
         "color": {"field": "s", "type": "nominal",
                   "scale": {"domain": ["SMA(10):6.081", "SMA(20):5.449", "SMA(50):6.459", "SMA(100):4.775", "SMA(5):6.084"],
                             "range": ["#ff2020", "#e8d820", "#b4b4e6", "#e0a010", "#f4b4c8"]},
                   "legend": {"orient": "top-left", "direction": "horizontal", "columns": 5, "gridAlign": "all", "columnPadding": 24, "offset": 2, "padding": 0,
                              "symbolSize": 1, "symbolStrokeWidth": 0, "symbolOpacity": 0, "labelOffset": -11,
                              "labelFont": "DejaVu Sans", "labelFontSize": 14, "labelColor": "#ffffff",
                              "title": "www.aastocks.com", "titleOrient": "bottom", "titleAnchor": "start", "titleFont": "DejaVu Sans", "titleFontSize": 17, "titleFontWeight": "normal", "titleColor": "#e6c000", "titlePadding": 4,
                              "encode": {"labels": {"update": {"fill": {"signal": "indexof(datum.label,'(100)')>=0 ? '#f0c020' : indexof(datum.label,'(10)')>=0 ? '#ff3030' : indexof(datum.label,'(20)')>=0 ? '#f0e040' : indexof(datum.label,'(50)')>=0 ? '#c4c4f0' : '#f0b4d4'"}}}}}}
       }}
    ]}
  ],
  "resolve": {"scale": {"y": "independent"}}
},
{
  "width": 1255,
  "height": 22,
  "view": {"fill": "#000050", "stroke": null},
  "data": {"name": "rsi"},
  "mark": {"type": "line", "color": "#ff2020", "strokeWidth": 1, "clip": true},
  "encoding": {
    "x": {"field": "i", "type": "quantitative", "scale": {"domain": [-1.731, 229.39], "nice": false, "zero": false},
          "axis": {"values": [12.45, 33.44, 51.67, 67.5, 87.2, 103.4, 124.0, 141.5, 158.3, 177.5, 196.1, 217.05], "labels": false, "grid": true, "title": null}},
    "y": {"field": "r", "type": "quantitative", "scale": {"domain": [77, 100], "nice": false, "zero": false}, "axis": null},
    "color": {"field": "s", "type": "nominal", "scale": {"range": ["#ff2020"]},
              "legend": {"orient": "top-left", "offset": 5, "padding": 0, "title": null, "symbolType": "M-1,-0.55H1V0.55H-1Z", "symbolSize": 144, "symbolFillColor": "#ff2020", "symbolStrokeColor": "#ff2020", "labelOffset": 5, "labelFont": "DejaVu Sans", "labelFontSize": 15, "labelColor": "#ffffff",
                         "encode": {"symbols": {"update": {"fill": {"value": "#ff2020"}, "stroke": {"value": "#ff2020"}}}}}}
  }
}
]
}
